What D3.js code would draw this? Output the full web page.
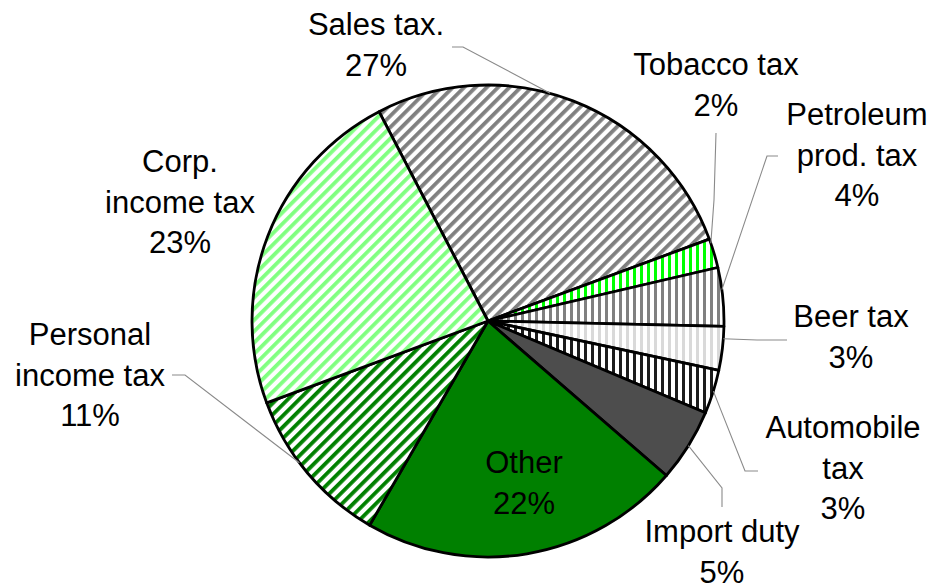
<!DOCTYPE html>
<html>
<head>
<meta charset="utf-8">
<script src="https://cdn.jsdelivr.net/npm/d3@7"></script>
<style>
  html, body { margin: 0; padding: 0; background: #fff; }
  svg { display: block; }
  text { font-family: "Liberation Sans", Arial, sans-serif; font-size: 31px; fill: #000; }
</style>
</head>
<body>
<svg id="chart" width="931" height="585"></svg>
<script>
// Tax revenue composition, clockwise from the top
const categories = ["Sales tax.", "Tobacco tax", "Petroleum prod. tax", "Beer tax",
  "Automobile tax", "Import duty", "Other", "Personal income tax", "Corp. income tax"];
const shares = [27, 2, 4, 3, 3, 5, 22, 11, 23];
const labelLines = [["Sales tax."], ["Tobacco tax"], ["Petroleum", "prod. tax"], ["Beer tax"],
  ["Automobile", "tax"], ["Import duty"], ["Other"], ["Personal", "income tax"], ["Corp.", "income tax"]];

// Fill style per slice: stripes ("diag" / "vert") or a solid colour
const fills = [
  { kind: "diag", color: "#808080" },
  { kind: "vert", color: "#00ff00" },
  { kind: "vert", color: "#808080" },
  { kind: "vert", color: "#d9d9d9" },
  { kind: "vert", color: "#1c1c1c" },
  { kind: "solid", color: "#4d4d4d" },
  { kind: "solid", color: "#008000" },
  { kind: "diag", color: "#008000" },
  { kind: "diag", color: "#80ff80" }
];

// Label placement: centre x, first baseline; optional leader elbow and where it meets the rim
const labelLayout = [
  { x: 376, y: 35, leader: [[452, 47], [463, 47]], at: 0.44 },
  { x: 716, y: 75, leader: [[716, 133], [714, 200]], at: 0.15 },
  { x: 857, y: 125, leader: [[778, 156], [767, 156]], at: 0.38 },
  { x: 851, y: 327, leader: [[787, 340], [757, 340]], at: 0.28 },
  { x: 843, y: 438, leader: [[758, 471], [745, 471]], at: 0.48 },
  { x: 722, y: 542, leader: [[722, 507], [722, 488]], at: 0.5 },
  { x: 524, y: 473, leader: null },
  { x: 90, y: 345, leader: [[172, 375], [185, 375]], at: 0.58 },
  { x: 180, y: 172, leader: null }
];

const cx = 488, cy = 321, radius = 236;
const lineGap = 40.5;
const rad = d => d * Math.PI / 180;
const start = rad(-27.5);

const svg = d3.select("#chart");
const defs = svg.append("defs");

fills.forEach((f, i) => {
  if (f.kind === "solid") return;
  const p = defs.append("pattern")
    .attr("id", "fill" + i)
    .attr("patternUnits", "userSpaceOnUse");
  if (f.kind === "diag") {
    p.attr("width", 8).attr("height", 20).attr("patternTransform", "rotate(45)");
    p.append("rect").attr("width", 8).attr("height", 20).attr("fill", "#fff");
    p.append("rect").attr("width", 3.8).attr("height", 20).attr("fill", f.color);
  } else {
    p.attr("width", 7).attr("height", 20).attr("x", cx);
    p.append("rect").attr("width", 7).attr("height", 20).attr("fill", "#fff");
    p.append("rect").attr("width", 3).attr("height", 20).attr("fill", f.color);
  }
});

const pie = d3.pie().sort(null).value(d => d)
  .startAngle(start).endAngle(start + 2 * Math.PI);
const arcs = pie(shares);
const arc = d3.arc().innerRadius(0).outerRadius(radius);

const g = svg.append("g").attr("transform", `translate(${cx},${cy})`);

// Leader lines from labels to the rim
const rimPoint = (a) => [cx + radius * Math.sin(a), cy - radius * Math.cos(a)];
svg.append("g").selectAll("polyline")
  .data(arcs.map((a, i) => ({ a, L: labelLayout[i] })).filter(d => d.L.leader))
  .join("polyline")
  .attr("points", d => {
    const ang = d.a.startAngle + d.L.at * (d.a.endAngle - d.a.startAngle);
    return d.L.leader.concat([rimPoint(ang)]).map(p => p.join(",")).join(" ");
  })
  .attr("fill", "none")
  .attr("stroke", "#8a8a8a")
  .attr("stroke-width", 1.1);

g.selectAll("path.slice")
  .data(arcs)
  .join("path")
  .attr("class", "slice")
  .attr("d", arc)
  .attr("fill", (d, i) => fills[i].kind === "solid" ? fills[i].color : `url(#fill${i})`)
  .attr("stroke", "#000")
  .attr("stroke-width", 2.8)
  .attr("stroke-linejoin", "round");

// Labels: name lines followed by the share
const labels = svg.append("g").selectAll("text")
  .data(arcs.map((a, i) => ({ i, lines: labelLines[i].concat([d3.format("d")(shares[i]) + "%"]) })))
  .join("text")
  .attr("text-anchor", "middle")
  .attr("x", d => labelLayout[d.i].x)
  .attr("y", d => labelLayout[d.i].y);

labels.selectAll("tspan")
  .data(d => d.lines.map((t, k) => ({ t, k, x: labelLayout[d.i].x })))
  .join("tspan")
  .attr("x", d => d.x)
  .attr("dy", d => d.k === 0 ? 0 : lineGap)
  .text(d => d.t);
</script>
</body>
</html>
